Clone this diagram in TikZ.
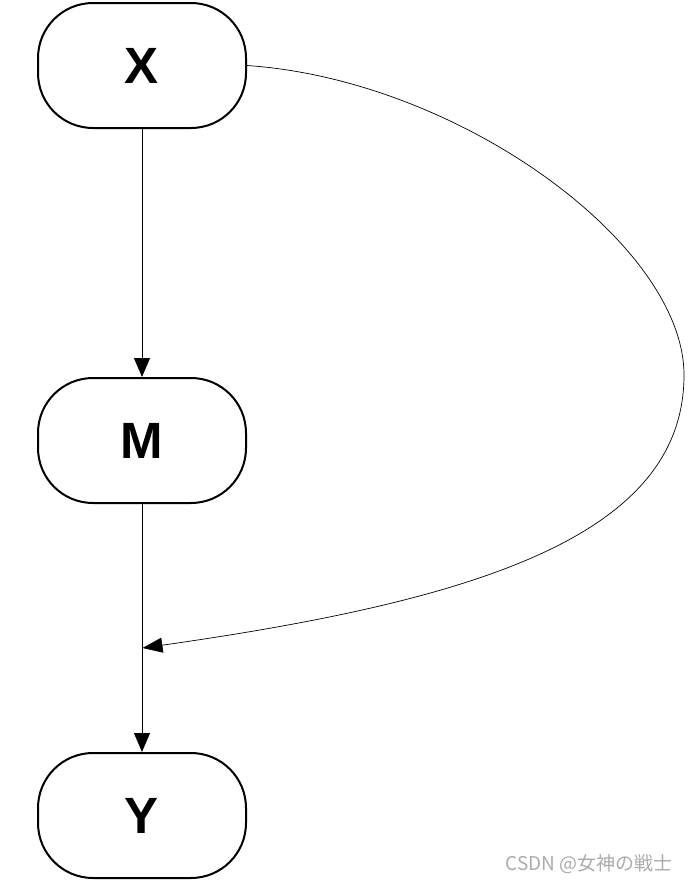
\documentclass[tikz,border=0pt]{standalone}
\usepackage{fontspec}
\setmainfont{Liberation Sans}
\newfontfamily\cjkwm{Noto Sans CJK JP}
\usetikzlibrary{arrows.meta}
\tikzset{
  varbox/.style={draw=black, line width=2pt, rounded corners=55pt, fill=white,
    minimum width=208pt, minimum height=125pt, inner sep=0pt,
    font=\fontsize{51}{51}\selectfont\bfseries},
  conn/.style={line width=0.9pt, -{Triangle[length=19pt,width=16pt]}},
  curveconn/.style={line width=0.7pt, -{Triangle[length=20pt,width=15pt]}},
}
\begin{document}
\begin{tikzpicture}[x=1pt,y=-1pt]
\useasboundingbox (0,0) rectangle (688,884);
\node[varbox] (X) at (142,65.5) {X};
\node[varbox] (M) at (142,440.5) {M};
\node[varbox] (Y) at (142,815.5) {Y};
\coordinate (j) at (142.5,648);
\draw[conn] (X) -- (M);
\draw[conn] (M) -- (Y);
\draw[curveconn] (X.east) .. controls (460,80) and (684,245) .. (684,375)
  .. controls (684,535) and (480,600) .. (j);
\node[text=black!33, font=\cjkwm\fontsize{19}{19}\selectfont, anchor=east, inner sep=0pt] (wm) at (673,864) {CSDN @女神の戦士};
\end{tikzpicture}
\end{document}
